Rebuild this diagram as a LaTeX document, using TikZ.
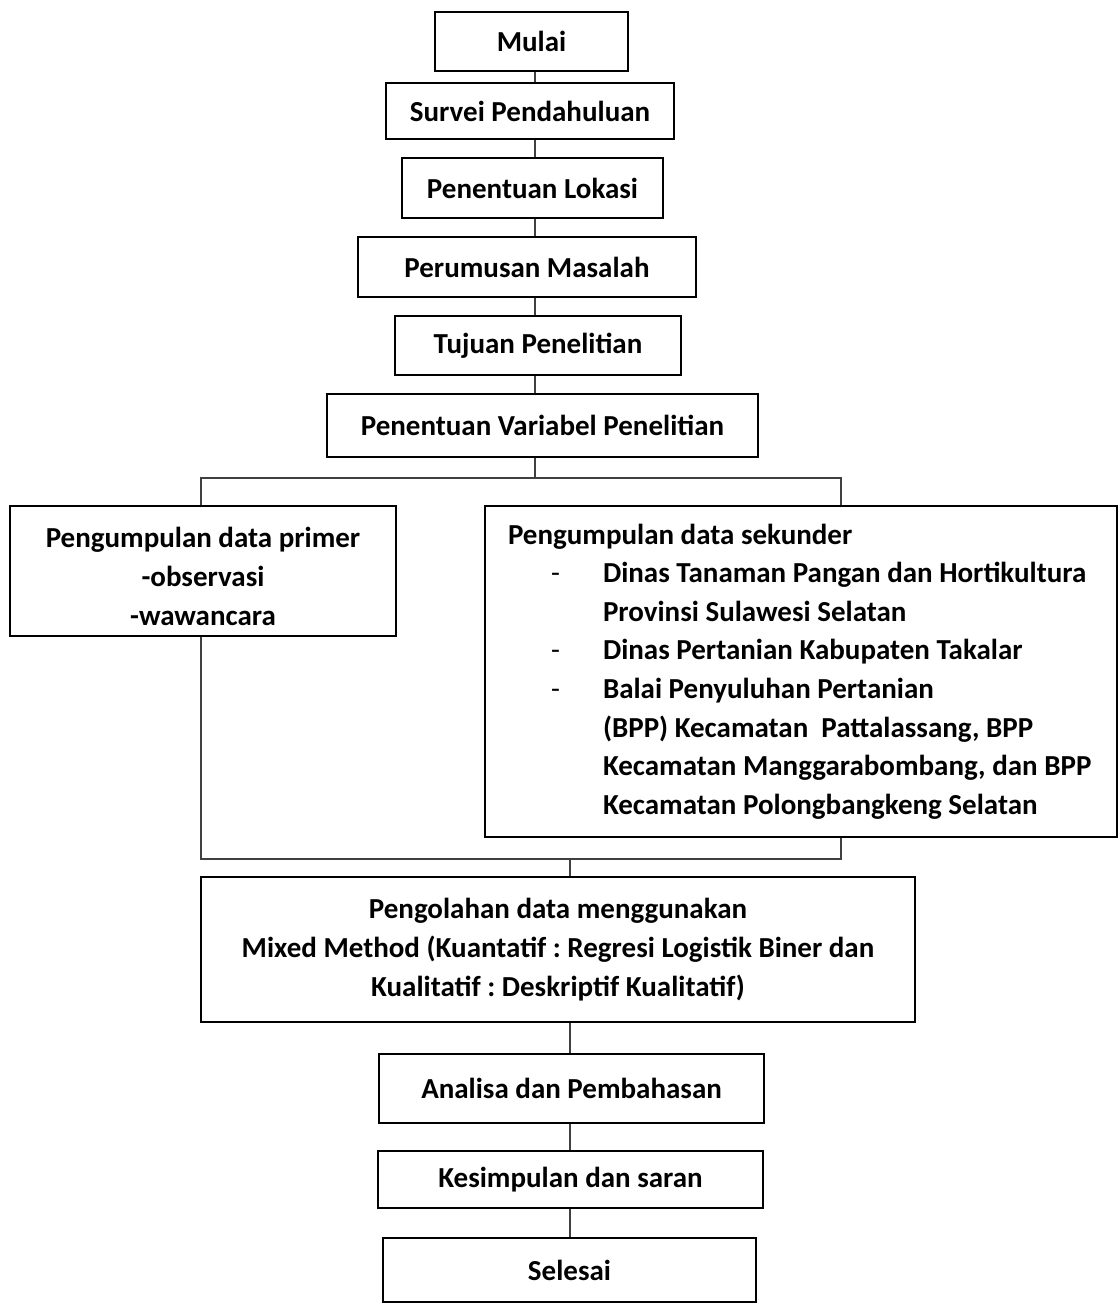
\documentclass[tikz,border=0pt]{standalone}
\usepackage{fontspec}
\setmainfont{Carlito}
\frenchspacing
\begin{document}
\begin{tikzpicture}[x=1pt,y=-1pt,
  font=\fontsize{29}{39}\selectfont\bfseries,
  box/.style={draw=black, line width=2.2pt, inner sep=0pt, align=center},
  link/.style={draw=black!75, line width=1.1pt}]

\useasboundingbox (0,0) rectangle (1118,1304);

%\draw (0,0) rectangle (1118,1304);

\coordinate (upx) at (535,0);
\coordinate (lowx) at (570,0);
\coordinate (brl) at (201,478);
\coordinate (brr) at (841,478);
\coordinate (jnl) at (201,859);
\coordinate (jnr) at (841,859);

% upper column
\node[box, minimum width=193pt, minimum height=59pt] (mulai) at (531.5,41.5) {Mulai};
\node[box, minimum width=288pt, minimum height=56pt] (survei) at (530,111) {Survei Pendahuluan};
\node[box, minimum width=261pt, minimum height=60pt] (lokasi) at (532.5,188) {Penentuan Lokasi};
\node[box, minimum width=338pt, minimum height=60pt] (masalah) at (527,267) {Perumusan Masalah};
\node[box, minimum width=286pt, minimum height=59pt] (tujuan) at (538,345.5) {Tujuan Penelitian};
\node[box, minimum width=431pt, minimum height=63pt] (variabel) at (542.5,425.5) {Penentuan Variabel Penelitian};

% data
\node[box, minimum width=386pt, minimum height=130pt] (primer) at (203,571)
  {\rule{0pt}{32pt}Pengumpulan data primer\\-observasi\\-wawancara};
\node[box, minimum width=632pt, minimum height=331pt, inner xsep=23pt,
  text width=586pt, align=flush left, font=\fontsize{29}{38.6}\selectfont\bfseries] (sekunder) at (801,671.5)
  {Pengumpulan data sekunder\\
   \hspace*{43pt}\makebox[52pt][l]{\mdseries -}Dinas Tanaman Pangan dan Hortikultura\\
   \hspace*{95pt}Provinsi Sulawesi Selatan\\
   \hspace*{43pt}\makebox[52pt][l]{\mdseries -}Dinas Pertanian Kabupaten Takalar\\
   \hspace*{43pt}\makebox[52pt][l]{\mdseries -}Balai Penyuluhan Pertanian\\
   \hspace*{95pt}(BPP) Kecamatan\ \ Pattalassang, BPP\\
   \hspace*{95pt}Kecamatan Manggarabombang, dan BPP\\
   \hspace*{95pt}Kecamatan Polongbangkeng Selatan};

% lower column
\node[box, minimum width=714pt, minimum height=145pt] (pengolahan) at (558,949.5)
  {Pengolahan data menggunakan\\Mixed Method (Kuantatif : Regresi Logistik Biner dan\\Kualitatif : Deskriptif Kualitatif)};
\node[box, minimum width=385pt, minimum height=69pt] (analisa) at (571.5,1088.5) {Analisa dan Pembahasan};
\node[box, minimum width=385pt, minimum height=57pt] (kesimpulan) at (570.5,1179.5) {Kesimpulan dan saran};
\node[box, minimum width=373pt, minimum height=64pt] (selesai) at (569.5,1270) {Selesai};

\foreach \a/\b in {mulai/survei, survei/lokasi, lokasi/masalah, masalah/tujuan, tujuan/variabel}
  \draw[link] (\a.south -| upx) -- (\b.north -| upx);
\draw[link] (variabel.south -| upx) -- (upx |- brl);
\draw[link] (primer.north -| brl) -- (brl) -- (brr) -- (sekunder.north -| brr);
\draw[link] (primer.south -| jnl) -- (jnl) -- (jnr) -- (sekunder.south -| jnr);
\draw[link] (lowx |- jnl) -- (pengolahan.north -| lowx);
\foreach \a/\b in {pengolahan/analisa, analisa/kesimpulan, kesimpulan/selesai}
  \draw[link] (\a.south -| lowx) -- (\b.north -| lowx);

\end{tikzpicture}
\end{document}
